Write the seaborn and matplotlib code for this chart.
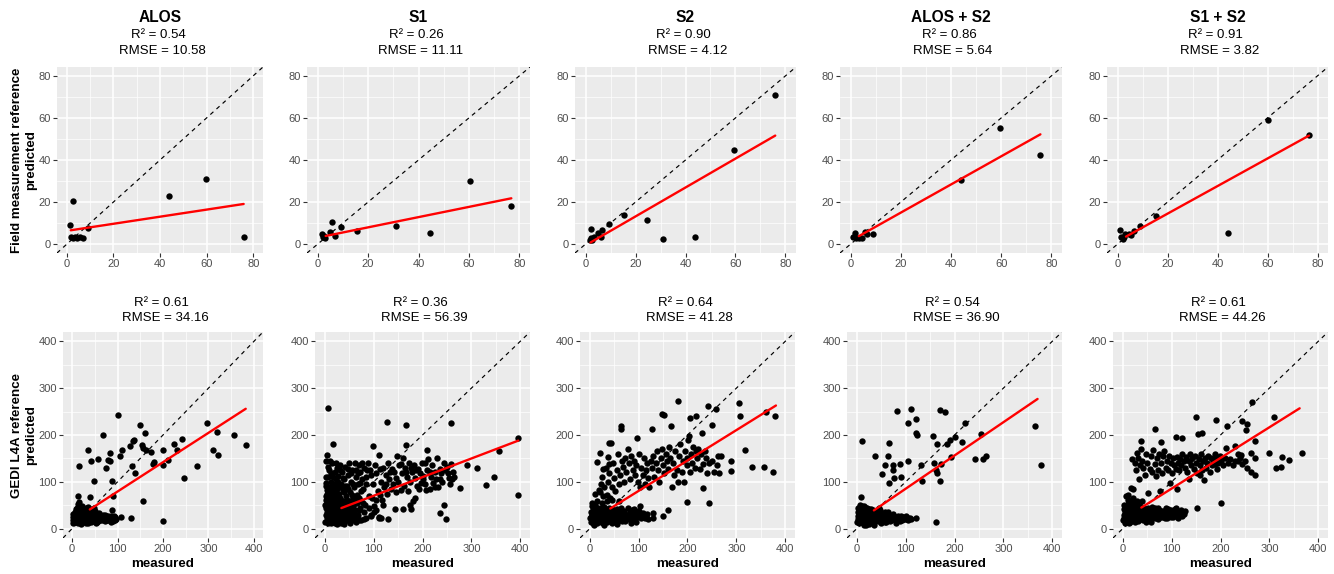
import matplotlib
matplotlib.use("Agg")
import matplotlib.pyplot as plt
import seaborn as sns
import pandas as pd
from matplotlib.ticker import MultipleLocator

sns.set_theme(style="darkgrid")
plt.rcParams["font.family"] = ["Liberation Sans", "DejaVu Sans"]

# ---------------------------------------------------------------- labels
models = ["ALOS", "S1", "S2", "ALOS + S2", "S1 + S2"]
field_r2 = ["0.54", "0.26", "0.90", "0.86", "0.91"]
field_rmse = ["10.58", "11.11", "4.12", "5.64", "3.82"]
gedi_r2 = ["0.61", "0.36", "0.64", "0.54", "0.61"]
gedi_rmse = ["34.16", "56.39", "41.28", "36.90", "44.26"]
row_titles = ["Field measurement reference", "GEDI L4A reference"]
field_ticks = [0, 20, 40, 60, 80]
gedi_ticks = [0, 100, 200, 300, 400]

# ------------------------------------------------ field reference (measured, predicted)
alos_field = [(1.4, 9.3), (2.8, 20.7), (1.9, 3.6), (2.8, 2.7), (3.5, 3.2), (4.3, 2.7),
              (5.7, 3.6), (6.8, 2.7), (9.0, 7.7), (43.8, 22.7), (59.6, 31.1), (75.9, 3.3)]
s1_field = [(1.6, 4.7), (2.0, 3.6), (3.0, 3.0), (2.6, 3.9), (4.9, 6.0), (5.8, 10.6),
            (6.8, 3.9), (9.2, 8.2), (15.7, 6.2), (31.1, 8.8), (44.5, 5.5), (60.4, 29.8),
            (76.8, 18.3)]
s2_field = [(2.0, 7.4), (2.0, 3.0), (2.7, 2.1), (3.3, 3.5), (1.6, 2.1), (4.9, 5.5),
            (6.0, 3.2), (6.6, 6.8), (9.3, 9.5), (15.5, 13.9), (24.5, 11.4), (30.8, 2.4),
            (43.9, 3.5), (59.5, 44.8), (75.9, 70.8)]
alos_s2_field = [(1.6, 5.5), (1.1, 3.5), (2.2, 2.7), (3.3, 3.0), (4.6, 3.0), (5.7, 6.0),
                 (6.6, 4.9), (9.0, 4.9), (43.9, 30.3), (59.5, 55.4), (75.6, 42.4)]
s1_s2_field = [(1.1, 6.5), (1.4, 3.2), (2.0, 2.4), (2.7, 3.6), (3.1, 4.7), (4.7, 4.6),
               (5.4, 4.3), (6.4, 6.3), (8.8, 8.7), (15.3, 13.4), (44.3, 5.2), (60.2, 58.8),
               (76.6, 52.1)]

alos_field_fit = [(1.7, 6.6), (75.9, 19.1)]
s1_field_fit = [(3.2, 3.9), (76.8, 21.8)]
s2_field_fit = [(2.0, 0.8), (75.9, 51.6)]
alos_s2_field_fit = [(3.3, 3.8), (75.6, 52.2)]
s1_s2_field_fit = [(3.4, 3.6), (76.6, 51.6)]

# ------------------------------------------------ GEDI L4A reference (measured, predicted)
alos_gedi = [
    (2, 12), (4, 20), (5, 28), (6, 15), (8, 24), (9, 33), (10, 18), (11, 38), (12, 27),
    (13, 12), (14, 22), (15, 30), (16, 45), (17, 17), (18, 35), (19, 25), (20, 14), (22, 20),
    (23, 30), (24, 40), (25, 16), (27, 26), (28, 34), (30, 21), (31, 12), (33, 29), (35, 38),
    (36, 18), (38, 25), (40, 32), (42, 15), (44, 22), (46, 28), (48, 36), (50, 19), (52, 26),
    (55, 14), (57, 30), (60, 22), (62, 18), (65, 27), (68, 20), (70, 25), (73, 16), (75, 22),
    (78, 28), (80, 18), (84, 24), (88, 20), (92, 22), (95, 18), (13, 52), (10, 45), (30, 44),
    (45, 40), (20, 10), (7, 35), (3, 25), (52, 12), (35, 12), (85, 15), (92, 26), (60, 33),
    (72, 30), (40, 42),
    (1, 18), (3, 32), (5, 22), (7, 14), (9, 28), (11, 20), (13, 34), (15, 16), (17, 28),
    (19, 40), (21, 24), (23, 14), (25, 36), (26, 28), (28, 18), (29, 42), (32, 24), (34, 32),
    (37, 20), (39, 36), (41, 26), (43, 30), (45, 16), (47, 24), (49, 30), (51, 38), (54, 22),
    (56, 26), (58, 16), (61, 28), (63, 24), (66, 18), (69, 30), (71, 20), (74, 26), (77, 18),
    (79, 24), (82, 20), (86, 28), (90, 16), (94, 24), (97, 20), (22, 48), (34, 46), (16, 56),
    (8, 42), (48, 44),
    (101, 242), (150, 221), (67, 200), (161, 205), (36, 169), (15, 134), (41, 144),
    (56, 148), (78, 146), (83, 144), (83, 161), (74, 129), (110, 167), (105, 155),
    (127, 176), (133, 188), (137, 190), (153, 178), (155, 173), (163, 167), (173, 163),
    (177, 137), (181, 143), (199, 136), (199, 167), (211, 146), (224, 181), (230, 169),
    (241, 191), (246, 108), (275, 134), (296, 226), (310, 167), (319, 207), (321, 158),
    (357, 199), (382, 178), (132, 134), (138, 119), (156, 60), (199, 16), (129, 23),
    (108, 25), (88, 40), (87, 101), (49, 101), (40, 68), (14, 70), (89, 70)]
s1_gedi = [
    (1, 15), (2, 30), (3, 45), (4, 22), (5, 58), (6, 12), (7, 35), (8, 50), (9, 25), (10, 18),
    (11, 40), (12, 60), (13, 28), (14, 14), (15, 48), (16, 33), (17, 20), (18, 55), (19, 38),
    (20, 12), (21, 27), (22, 44), (23, 18), (24, 35), (25, 52), (26, 23), (27, 15), (28, 40),
    (29, 30), (30, 58), (31, 20), (32, 47), (33, 13), (34, 36), (35, 26), (36, 53), (37, 18),
    (38, 42), (39, 30), (40, 15), (42, 25), (44, 48), (45, 35), (46, 20), (48, 57), (50, 28),
    (52, 16), (53, 40), (55, 22), (57, 50), (58, 33), (60, 18),
    (3, 70), (5, 82), (8, 62), (10, 90), (12, 75), (14, 55), (16, 88), (18, 70), (20, 42),
    (22, 62), (24, 85), (26, 48), (28, 72), (30, 35), (32, 65), (34, 88), (36, 42), (38, 60),
    (40, 78), (42, 48), (44, 32), (46, 62), (48, 85), (50, 45), (52, 58), (54, 30), (56, 72),
    (58, 48), (60, 62), (62, 40), (65, 55), (68, 30), (70, 65), (72, 45), (75, 80), (78, 55),
    (80, 20), (6, 22), (9, 40), (12, 12), (15, 35), (18, 22), (21, 50), (24, 10), (27, 32),
    (30, 14), (33, 48), (36, 30), (39, 10), (42, 40), (45, 18), (48, 30), (51, 12), (54, 45),
    (57, 20), (60, 38), (63, 15), (66, 28), (70, 18), (1, 50), (2, 62), (4, 35), (7, 18),
    (11, 28), (3, 110), (7, 132), (11, 145), (17, 110), (23, 140), (27, 100), (31, 125),
    (37, 108), (41, 92), (47, 128), (53, 118), (57, 95), (63, 125), (67, 118), (73, 98),
    (77, 140), (84, 95), (86, 125), (94, 115), (96, 65), (104, 62), (113, 72), (120, 50),
    (126, 95), (134, 120), (146, 108), (156, 138), (166, 120), (176, 130), (186, 125),
    (196, 98), (206, 140), (216, 122), (226, 90), (236, 105), (246, 125), (256, 95),
    (2, 98), (3, 92), (4, 75), (5, 65), (6, 110), (8, 85), (9, 125), (10, 70), (12, 100),
    (13, 118), (14, 80), (15, 140), (16, 62), (18, 95), (20, 120), (21, 78), (22, 105),
    (24, 68), (25, 130), (26, 88), (28, 112), (30, 75), (32, 135), (33, 95), (35, 60),
    (36, 120), (38, 82), (40, 105), (42, 132), (44, 70), (45, 92), (48, 115), (50, 140),
    (52, 78), (54, 100), (56, 125), (58, 65), (60, 88), (62, 140), (64, 110), (66, 72),
    (68, 95), (70, 135), (72, 120), (74, 60), (76, 105), (78, 85), (80, 130),
    (82, 50), (85, 110), (88, 140), (90, 70), (92, 125), (95, 30), (98, 95), (100, 48),
    (102, 135), (105, 118), (108, 80), (110, 22), (112, 128), (115, 100), (118, 62),
    (120, 130), (122, 90), (125, 115), (128, 75), (130, 140), (132, 105), (135, 85),
    (138, 128), (140, 95), (142, 120), (145, 78), (148, 155), (150, 100), (152, 135),
    (155, 82), (158, 118), (160, 150), (162, 92), (165, 130), (168, 110), (170, 80),
    (172, 140), (175, 100), (178, 122), (180, 60), (182, 135), (185, 108), (188, 92),
    (190, 128), (192, 85), (195, 118), (198, 140), (200, 105), (202, 112), (205, 95),
    (208, 82), (210, 125), (212, 148), (215, 84), (218, 110), (220, 135), (222, 98),
    (225, 120), (228, 105), (230, 150), (232, 88), (235, 128), (238, 118), (240, 100),
    (245, 140), (250, 132), (252, 118), (255, 108), (258, 138), (262, 122), (265, 110),
    (62, 25), (70, 40), (75, 18), (80, 35), (85, 22), (90, 45), (95, 28), (100, 35),
    (105, 40), (110, 25), (115, 22),
    (7, 258), (16, 180), (4, 158), (3, 144), (128, 227), (167, 221), (258, 225), (167, 178),
    (99, 176), (111, 158), (209, 168), (396, 194), (357, 166), (312, 130), (292, 136),
    (329, 94), (346, 110), (395, 71), (276, 87), (261, 107), (243, 50), (235, 34), (248, 21),
    (185, 65), (175, 51), (177, 41), (161, 43), (143, 43), (130, 21)]
s2_gedi = [
    (1, 22), (2, 35), (3, 15), (4, 48), (5, 28), (6, 12), (7, 40), (8, 20), (9, 32), (10, 50),
    (11, 16), (12, 26), (13, 38), (14, 12), (15, 22), (16, 44), (17, 30), (18, 18), (19, 36),
    (20, 25), (22, 14), (23, 42), (24, 30), (25, 20), (27, 34), (28, 12), (29, 27), (30, 46),
    (32, 18), (33, 32), (35, 24), (36, 14), (38, 38), (40, 22), (42, 30), (44, 16), (46, 42),
    (48, 26), (50, 20), (52, 34), (54, 15), (56, 28), (58, 40), (60, 22), (62, 18), (65, 30),
    (68, 25), (70, 38), (72, 16), (75, 28), (78, 45), (80, 22), (82, 35), (85, 18), (88, 30),
    (90, 42), (92, 25), (95, 15), (98, 38), (100, 28), (103, 48), (105, 22), (108, 34),
    (110, 25), (115, 30), (120, 20),
    (2, 25), (4, 32), (5, 18), (7, 28), (9, 14), (11, 36), (12, 44), (14, 28), (16, 20),
    (18, 40), (20, 32), (21, 16), (24, 45), (26, 26), (28, 36), (30, 14), (31, 30), (34, 40),
    (36, 28), (38, 18), (40, 44), (42, 24), (44, 34), (46, 12), (48, 40), (50, 30), (52, 22),
    (55, 42), (57, 18), (60, 34), (62, 26), (64, 45), (66, 16), (68, 34), (70, 22), (73, 30),
    (76, 20), (80, 32), (84, 26), (86, 40), (90, 18), (94, 32), (96, 24), (100, 38),
    (106, 30), (112, 22), (118, 32), (5, 55), (15, 58), (25, 55), (35, 60), (10, 75),
    (18, 82), (28, 70), (45, 62), (60, 58), (8, 8), (30, 8), (55, 10), (85, 12),
    (20, 78), (22, 95), (25, 110), (30, 88), (33, 130), (35, 72), (38, 100), (40, 118),
    (42, 65), (45, 90), (48, 140), (50, 108), (52, 80), (55, 125), (58, 160), (60, 95),
    (62, 115), (65, 145), (68, 132), (70, 100), (72, 150), (75, 120), (78, 170), (80, 140),
    (82, 105), (85, 155), (88, 125), (90, 145), (92, 115), (95, 135), (98, 100), (100, 160),
    (102, 90), (105, 130), (108, 115), (110, 150), (112, 95), (115, 125), (118, 140),
    (120, 108), (122, 88), (125, 145), (128, 130), (130, 155), (132, 110), (135, 140),
    (138, 165), (140, 125), (142, 100), (145, 150), (148, 170), (150, 135), (152, 118),
    (155, 160), (158, 145), (160, 128), (162, 175), (165, 150), (168, 90), (170, 140),
    (172, 115), (175, 165), (178, 125), (180, 100), (182, 155), (185, 180), (188, 120),
    (190, 145), (192, 100), (195, 165), (198, 135), (200, 150), (202, 190), (205, 120),
    (208, 160), (210, 140), (212, 175), (215, 130), (218, 165), (220, 150), (222, 170),
    (225, 128), (228, 160), (232, 138), (235, 165), (238, 150), (240, 118), (245, 140),
    (250, 145), (255, 120), (260, 135), (262, 155), (265, 118),
    (181, 273), (241, 263), (258, 256), (306, 268), (308, 240), (360, 249), (380, 240),
    (374, 122), (356, 131), (331, 131), (317, 169), (289, 123), (289, 144), (269, 155),
    (245, 54), (231, 86), (200, 57), (160, 40), (150, 26), (129, 34), (129, 23), (148, 244),
    (152, 242), (167, 219), (63, 219), (64, 213), (96, 194), (39, 183), (44, 183), (21, 162),
    (15, 142), (37, 153), (39, 139), (27, 128), (128, 212), (251, 222), (206, 237),
    (217, 240), (230, 205), (203, 198)]
alos_s2_gedi = [
    (1, 15), (2, 28), (3, 20), (4, 38), (5, 12), (6, 25), (7, 33), (8, 18), (9, 42), (10, 22),
    (11, 30), (12, 14), (13, 36), (14, 24), (15, 18), (16, 40), (17, 28), (18, 12), (19, 34),
    (20, 20), (22, 26), (23, 38), (24, 15), (25, 30), (27, 22), (28, 40), (30, 18), (32, 28),
    (33, 35), (35, 14), (36, 24), (38, 32), (40, 20), (42, 38), (44, 16), (46, 28), (48, 22),
    (50, 34), (52, 18), (55, 26), (57, 14), (60, 30), (62, 20), (65, 24), (68, 16), (70, 28),
    (72, 22), (75, 32), (78, 18), (80, 25), (82, 20), (85, 28), (88, 22), (92, 18), (95, 24),
    (100, 20), (105, 18), (108, 22), (10, 48), (20, 45), (30, 42), (45, 44), (25, 10),
    (15, 8), (5, 30), (3, 45),
    (2, 35), (4, 25), (6, 40), (8, 30), (10, 15), (12, 38), (14, 32), (16, 20), (18, 44),
    (20, 28), (22, 16), (24, 34), (26, 42), (28, 24), (30, 32), (32, 14), (34, 40), (36, 30),
    (38, 20), (40, 36), (42, 26), (44, 30), (46, 18), (48, 40), (50, 26), (54, 32), (56, 20),
    (58, 36), (62, 28), (64, 36), (66, 22), (70, 18), (74, 26), (76, 20), (84, 24), (90, 26),
    (96, 20), (100, 26), (104, 22), (110, 20), (6, 50), (14, 48), (18, 8), (36, 8), (50, 12),
    (60, 14), (80, 12), (88, 16),
    (10, 187), (9, 68), (38, 155), (57, 136), (51, 116), (65, 183), (64, 156), (66, 97),
    (74, 136), (75, 125), (77, 109), (88, 139), (91, 111), (82, 252), (104, 225), (105, 144),
    (110, 256), (122, 235), (121, 204), (123, 201), (131, 136), (133, 102), (156, 198),
    (158, 141), (164, 180), (163, 125), (164, 119), (170, 253), (181, 249), (171, 101),
    (173, 139), (185, 181), (191, 190), (193, 154), (201, 195), (215, 184), (222, 225),
    (255, 202), (242, 148), (259, 148), (264, 155), (364, 220), (377, 135), (163, 14),
    (121, 23)]
s1_s2_gedi = [
    (1, 18), (2, 30), (3, 42), (4, 22), (5, 12), (6, 35), (7, 26), (8, 48), (9, 16), (10, 30),
    (11, 40), (12, 20), (13, 55), (14, 28), (15, 14), (16, 38), (17, 24), (18, 45), (19, 32),
    (20, 18), (21, 26), (22, 50), (23, 36), (24, 14), (25, 30), (26, 42), (27, 20), (28, 34),
    (30, 25), (31, 45), (32, 16), (33, 38), (35, 28), (36, 20), (38, 40), (40, 30), (42, 18),
    (44, 35), (45, 24), (48, 42), (50, 20), (52, 32), (55, 26), (58, 38), (60, 22), (62, 30),
    (65, 45), (68, 28), (70, 35), (72, 20), (75, 40), (78, 32), (80, 25), (82, 38), (85, 30),
    (88, 45), (90, 22), (92, 35), (95, 28), (98, 40), (100, 32), (102, 25), (105, 38),
    (108, 45), (110, 28), (112, 22), (115, 35), (118, 30), (120, 40), (122, 28),
    (2, 22), (3, 50), (4, 35), (6, 18), (7, 44), (9, 28), (10, 52), (12, 36), (13, 12),
    (15, 46), (16, 22), (18, 30), (19, 58), (21, 40), (23, 22), (24, 48), (26, 32), (28, 18),
    (29, 52), (31, 28), (32, 40), (34, 20), (36, 48), (37, 34), (39, 22), (41, 45), (43, 26),
    (46, 38), (47, 14), (49, 30), (51, 44), (53, 22), (56, 36), (57, 15), (59, 46), (61, 28),
    (63, 38), (66, 22), (67, 35), (71, 28), (73, 44), (76, 24), (79, 38), (83, 30), (86, 22),
    (89, 36), (93, 42), (96, 30), (99, 24), (103, 30), (106, 42), (111, 34), (116, 26),
    (119, 36), (125, 32), (128, 38), (20, 65), (10, 62), (30, 60), (40, 58),
    (25, 140), (28, 125), (32, 150), (35, 135), (38, 170), (40, 145), (42, 130), (45, 115),
    (48, 160), (50, 140), (55, 128), (58, 155), (60, 120), (62, 168), (65, 138), (68, 112),
    (70, 150), (72, 125), (75, 160), (78, 140), (80, 118), (82, 155), (85, 165), (88, 130),
    (90, 145), (92, 125), (95, 155), (98, 140), (100, 118), (102, 150), (105, 135),
    (108, 128), (110, 152), (112, 140), (115, 125), (118, 148), (120, 135), (122, 160),
    (125, 145), (128, 130), (130, 152), (132, 120), (135, 145), (138, 160), (140, 135),
    (142, 150), (145, 128), (148, 155), (150, 140), (152, 118), (155, 148), (158, 135),
    (160, 160), (162, 125), (165, 145), (168, 150), (170, 130), (172, 140), (175, 155),
    (178, 120), (180, 150), (182, 135), (185, 145), (188, 160), (190, 150), (192, 128),
    (195, 140), (198, 155), (200, 145), (205, 135), (210, 150), (215, 140), (220, 148),
    (225, 135), (230, 145), (235, 160), (240, 150), (245, 138), (250, 145), (255, 130),
    (264, 270), (310, 238), (150, 238), (191, 231), (214, 219), (243, 229), (254, 224),
    (252, 210), (65, 212), (37, 188), (154, 202), (163, 204), (108, 196), (122, 194),
    (79, 186), (30, 162), (33, 105), (19, 148), (17, 87), (21, 85), (6, 70), (10, 71),
    (14, 59), (52, 77), (77, 80), (110, 85), (151, 45), (202, 54), (299, 162), (313, 129),
    (323, 131), (325, 153), (341, 146), (367, 161), (270, 114), (262, 121), (262, 161),
    (271, 187), (271, 150), (242, 158), (235, 144), (230, 176), (211, 173), (189, 137),
    (167, 104), (159, 114), (136, 107), (97, 98)]

alos_gedi_fit = [(39, 41), (382, 256)]
s1_gedi_fit = [(34, 44), (396, 188)]
s2_gedi_fit = [(42, 43), (381, 263)]
alos_s2_gedi_fit = [(35, 39), (370, 277)]
s1_s2_gedi_fit = [(38, 45), (362, 257)]

field_points = [alos_field, s1_field, s2_field, alos_s2_field, s1_s2_field]
field_fits = [alos_field_fit, s1_field_fit, s2_field_fit, alos_s2_field_fit, s1_s2_field_fit]
gedi_points = [alos_gedi, s1_gedi, s2_gedi, alos_s2_gedi, s1_s2_gedi]
gedi_fits = [alos_gedi_fit, s1_gedi_fit, s2_gedi_fit, alos_s2_gedi_fit, s1_s2_gedi_fit]

# ---------------------------------------------------------------- layout (pixels)
W, H = 1334, 574
top_cols = [(57, 263), (307, 530), (575, 796), (840, 1062), (1107, 1328)]
bot_cols = [(63, 263), (315, 530), (580, 795), (847, 1062), (1113, 1328)]
top_rows = (67, 253)
bot_rows = (332, 538)

fig = plt.figure(figsize=(W / 100, H / 100), dpi=100)
fig.patch.set_facecolor("white")


def panel(cols, rows):
    (l, r), (t, b) = cols, rows
    return fig.add_axes([l / W, 1 - b / H, (r - l) / W, (b - t) / H])


def style(ax, ticks, minor, lim):
    ax.set_facecolor("#EBEBEB")
    for sp in ax.spines.values():
        sp.set_visible(False)
    ax.set_xlim(lim)
    ax.set_ylim(lim)
    ax.set_xticks(ticks)
    ax.set_yticks(ticks)
    ax.xaxis.set_minor_locator(MultipleLocator(minor))
    ax.yaxis.set_minor_locator(MultipleLocator(minor))
    ax.grid(which="major", color="white", linewidth=1.1)
    ax.grid(which="minor", color="white", linewidth=0.5)
    ax.set_axisbelow(True)
    ax.tick_params(which="major", length=3, width=0.8, color="#333333",
                   labelsize=8.0, labelcolor="#4D4D4D", pad=1.5,
                   bottom=True, left=True)
    ax.tick_params(which="minor", length=0, bottom=False, left=False)
    ax.set_xlabel("")
    ax.set_ylabel("")


def draw(ax, pts, fit):
    df = pd.DataFrame(pts, columns=["measured", "predicted"])
    sns.scatterplot(data=df, x="measured", y="predicted", ax=ax, color="black",
                    s=21, linewidth=0, legend=False, zorder=3)
    ax.axline((0, 0), slope=1, color="black", linewidth=0.85,
              linestyle=(0, (3.5, 3.5)), zorder=4)
    fdf = pd.DataFrame(fit, columns=["measured", "predicted"])
    sns.lineplot(data=fdf, x="measured", y="predicted", ax=ax, color="red",
                 linewidth=1.7, estimator=None, zorder=5)


for i in range(5):
    ax = panel(top_cols[i], top_rows)
    draw(ax, field_points[i], field_fits[i])
    style(ax, field_ticks, 10, (-4.2, 84.2))
    cx = (top_cols[i][0] + top_cols[i][1]) / 2
    fig.text(cx / W, 1 - 18 / H, models[i], ha="center", va="center",
             fontsize=11.2, fontweight="bold", color="black")
    fig.text((cx - 2) / W, 1 - 35 / H, f"R\u00b2 = {field_r2[i]}", ha="center",
             va="center", fontsize=9.5, color="black")
    fig.text((cx + 2) / W, 1 - 51 / H, f"RMSE = {field_rmse[i]}", ha="center",
             va="center", fontsize=9.5, color="black")

    ax = panel(bot_cols[i], bot_rows)
    draw(ax, gedi_points[i], gedi_fits[i])
    style(ax, gedi_ticks, 50, (-20, 420))
    cx = (bot_cols[i][0] + bot_cols[i][1]) / 2
    fig.text((cx - 2) / W, 1 - 303 / H, f"R\u00b2 = {gedi_r2[i]}", ha="center",
             va="center", fontsize=9.5, color="black")
    fig.text((cx + 2) / W, 1 - 318 / H, f"RMSE = {gedi_rmse[i]}", ha="center",
             va="center", fontsize=9.5, color="black")
    fig.text(cx / W, 1 - 564 / H, "measured", ha="center", va="center",
             fontsize=9.6, fontweight="bold", color="black")

# row titles on the left
for title, yc in zip(row_titles, [(top_rows[0] + top_rows[1]) / 2,
                                  (bot_rows[0] + bot_rows[1]) / 2]):
    fig.text(17 / W, 1 - yc / H, title, rotation=90, ha="center", va="center",
             fontsize=9.6, fontweight="bold", color="black")
    fig.text(31 / W, 1 - yc / H, "predicted", rotation=90, ha="center", va="center",
             fontsize=9.6, fontweight="bold", color="black")

fig.savefig("out.png", dpi=100)
